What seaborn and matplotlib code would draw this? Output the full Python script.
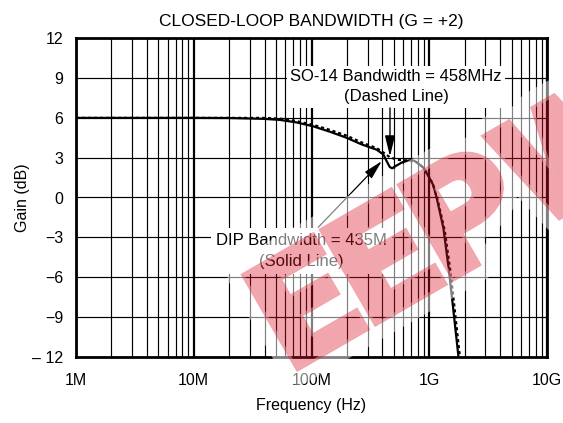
import os
import numpy as np
import pandas as pd
import matplotlib
matplotlib.use("Agg")
import matplotlib.pyplot as plt
import seaborn as sns
from matplotlib import font_manager as fm
from matplotlib.ticker import LogLocator, NullFormatter, FixedLocator
from matplotlib.textpath import TextPath
from matplotlib.font_manager import FontProperties
from matplotlib.patches import PathPatch
from matplotlib.path import Path
from matplotlib.transforms import Affine2D

# ---------------- data ----------------
freq_dip_mhz = [1, 10, 20, 38.8, 53.8, 74.6, 103, 143, 199, 267, 358, 407, 437, 462,
                484, 525, 589, 676, 741, 794, 891, 1000, 1086, 1161, 1318, 1455, 1585, 1770]
gain_dip_db = [6.0, 6.0, 5.99, 5.93, 5.85, 5.66, 5.37, 4.96, 4.5, 4.0, 3.6, 3.25, 2.7, 2.3,
               2.2, 2.4, 2.65, 2.8, 2.78, 2.62, 2.25, 1.5, 0.9, -0.1, -2.3, -5.2, -8.1, -12.0]
freq_so14_mhz = [1, 10, 20, 38.8, 53.8, 74.6, 103, 143, 199, 267, 358, 410, 460, 530, 600,
                 676, 760, 830, 910, 1030, 1110, 1195, 1355, 1495, 1630, 1820]
gain_so14_db = [6.0, 6.0, 6.0, 6.0, 5.95, 5.76, 5.48, 5.1, 4.66, 4.15, 3.72, 3.38, 3.05, 2.85,
                2.8, 2.8, 2.7, 2.5, 2.15, 1.35, 0.6, -0.4, -2.5, -5.2, -8.1, -12.0]

x_ticks = [1e6, 1e7, 1e8, 1e9, 1e10]
x_tick_labels = ["1M", "10M", "100M", "1G", "10G"]
y_ticks = [-12, -9, -6, -3, 0, 3, 6, 9, 12]
y_tick_labels = ["\u2013 12", "\u22129", "\u22126", "\u22123", "0", "3", "6", "9", "12"]

title = "CLOSED-LOOP BANDWIDTH (G = +2)"
so14_label = "SO-14 Bandwidth = 458MHz\n(Dashed Line)"
dip_label = "DIP Bandwidth = 435M\n(Solid Line)"
watermark = "EEPW"
so14_bw_hz = 464e6
dip_bw_hz = 395e6

# ---------------- figure ----------------
sns.set_theme(style="white")
plt.rcParams["font.family"] = ["Liberation Sans", "DejaVu Sans"]

W, H = 563, 423
fig, ax = plt.subplots(figsize=(W / 100, H / 100), dpi=100)
fig.subplots_adjust(left=76 / W, right=547 / W, top=1 - 38.3 / H, bottom=1 - 356.7 / H)

df = pd.concat([
    pd.DataFrame({"Frequency": np.array(freq_dip_mhz) * 1e6, "Gain": gain_dip_db, "Package": "DIP"}),
    pd.DataFrame({"Frequency": np.array(freq_so14_mhz) * 1e6, "Gain": gain_so14_db, "Package": "SO-14"}),
], ignore_index=True)

sns.lineplot(data=df, x="Frequency", y="Gain", style="Package",
             style_order=["DIP", "SO-14"], dashes={"DIP": "", "SO-14": (1.4, 1.3)},
             color="black", linewidth=1.6, sort=False, estimator=None,
             legend=False, ax=ax, zorder=3)

ax.set_xscale("log")
ax.set_xlim(1e6, 1e10)
ax.set_ylim(-12, 12)
ax.xaxis.set_major_locator(FixedLocator(x_ticks))
ax.set_xticklabels(x_tick_labels)
ax.xaxis.set_minor_locator(LogLocator(base=10, subs=np.arange(2, 10), numticks=50))
ax.xaxis.set_minor_formatter(NullFormatter())
ax.set_yticks(y_ticks)
ax.set_yticklabels(y_tick_labels)

ax.set_axisbelow(True)
ax.grid(True, which="major", axis="x", color="black", linewidth=1.6)
ax.grid(True, which="minor", axis="x", color="black", linewidth=0.85)
ax.grid(True, which="major", axis="y", color="black", linewidth=0.85)

ax.tick_params(axis="both", which="both", length=0, labelsize=11.5, colors="black")
ax.tick_params(axis="x", pad=12)
ax.tick_params(axis="y", pad=9)
for s in ax.spines.values():
    s.set_visible(True)
    s.set_color("black")
    s.set_linewidth(2.0)

ax.set_title(title, fontsize=12.5, pad=9, color="black")
ax.set_xlabel("Frequency (Hz)", fontsize=11.5, labelpad=7, color="black")
ax.set_ylabel("Gain (dB)", fontsize=11.5, labelpad=2, color="black")

# annotations
ax.text(522e6, 8.35, so14_label, ha="center", va="center", fontsize=12, linespacing=1.45,
        color="black", zorder=5,
        bbox=dict(boxstyle="square,pad=0.2", facecolor="white", edgecolor="none"))
ax.annotate("", xy=(so14_bw_hz, 3.1), xytext=(so14_bw_hz, 6.75),
            arrowprops=dict(arrowstyle="-|>,head_length=0.9,head_width=0.22",
                            color="black", lw=1.0, shrinkA=0, shrinkB=0,
                            mutation_scale=14), zorder=6)

ax.text(82.4e6, -4.03, dip_label, ha="center", va="center", fontsize=12, linespacing=1.45,
        color="black", zorder=5,
        bbox=dict(boxstyle="square,pad=0.3", facecolor="white", edgecolor="none"))
ax.annotate("", xy=(dip_bw_hz, 2.74), xytext=(114e6, -2.25),
            arrowprops=dict(arrowstyle="-|>,head_length=0.9,head_width=0.22",
                            color="black", lw=0.9, shrinkA=0, shrinkB=0,
                            mutation_scale=13), zorder=6)

# ---------------- watermark ----------------
fp = None
heavy = False
for fam, wt in [("Roboto", "black"), ("Lato", "black"), ("Noto Sans", "black"),
                ("Open Sans", "extra bold")]:
    cand = FontProperties(family=fam, weight=wt)
    try:
        fpath = fm.findfont(cand, fallback_to_default=False)
    except Exception:
        continue
    name = os.path.basename(fpath).lower()
    if any(k in name for k in ("black", "heavy", "extrabold")):
        fp = FontProperties(fname=fpath)
        heavy = True
        break
if fp is None:
    fp = FontProperties(family="Liberation Sans", weight="bold")

fatten_px = 3.0 if heavy else 8.0
cap_target = 113.0 - 2 * fatten_px
p_start_target = 180.0

extE = TextPath((0, 0), "E", size=1, prop=fp).get_extents()
extEEP = TextPath((0, 0), "EEP", size=1, prop=fp).get_extents()
extP = TextPath((0, 0), "P", size=1, prop=fp).get_extents()
sy = cap_target / extE.height
p_start = (extEEP.xmax - extP.width) - extEEP.xmin
sx = p_start_target / p_start

tp = TextPath((0, 0), watermark, size=1, prop=fp)
xmin = tp.get_extents().xmin
verts = (tp.vertices - np.array([xmin, 0.0])) * np.array([sx, sy])
glyph = Path(verts, tp.codes)


def signed_area(p):
    x, y = p[:, 0], p[:, 1]
    return 0.5 * np.sum(x * np.roll(y, -1) - np.roll(x, -1) * y)


polys = glyph.to_polygons()
big = max(polys, key=lambda p: abs(signed_area(p)))
sgn = np.sign(signed_area(big))
outer = np.array([(-2000, -2000), (3000, -2000), (3000, 2000), (-2000, 2000)], dtype=float)
if np.sign(signed_area(outer)) == sgn:
    outer = outer[::-1]
outer_path = Path(np.vstack([outer, outer[:1]]),
                  [Path.MOVETO] + [Path.LINETO] * (len(outer) - 1) + [Path.CLOSEPOLY])
outside_glyph = Path.make_compound_path(outer_path, glyph)

R = Affine2D().rotate_deg(30).translate(298, H - 368)
px2pt = 72.0 / fig.dpi

# white glow around the letters (outside only)
glow = PathPatch(glyph, facecolor="none", edgecolor="white", linewidth=34 * px2pt,
                 alpha=0.5, joinstyle="round", zorder=20)
glow.set_transform(R)
glow.set_clip_path(outside_glyph, R)
fig.add_artist(glow)

wm_color = "#DC1428"
wm_alpha = 0.38
fill = PathPatch(glyph, facecolor=wm_color, edgecolor="none", alpha=wm_alpha, zorder=21)
fill.set_transform(R)
fig.add_artist(fill)
fat = PathPatch(glyph, facecolor="none", edgecolor=wm_color, linewidth=2 * fatten_px * px2pt,
                alpha=wm_alpha, joinstyle="miter", zorder=21)
fat.set_transform(R)
fat.set_clip_path(outside_glyph, R)
fig.add_artist(fat)

fig.savefig("out.png", dpi=100)
